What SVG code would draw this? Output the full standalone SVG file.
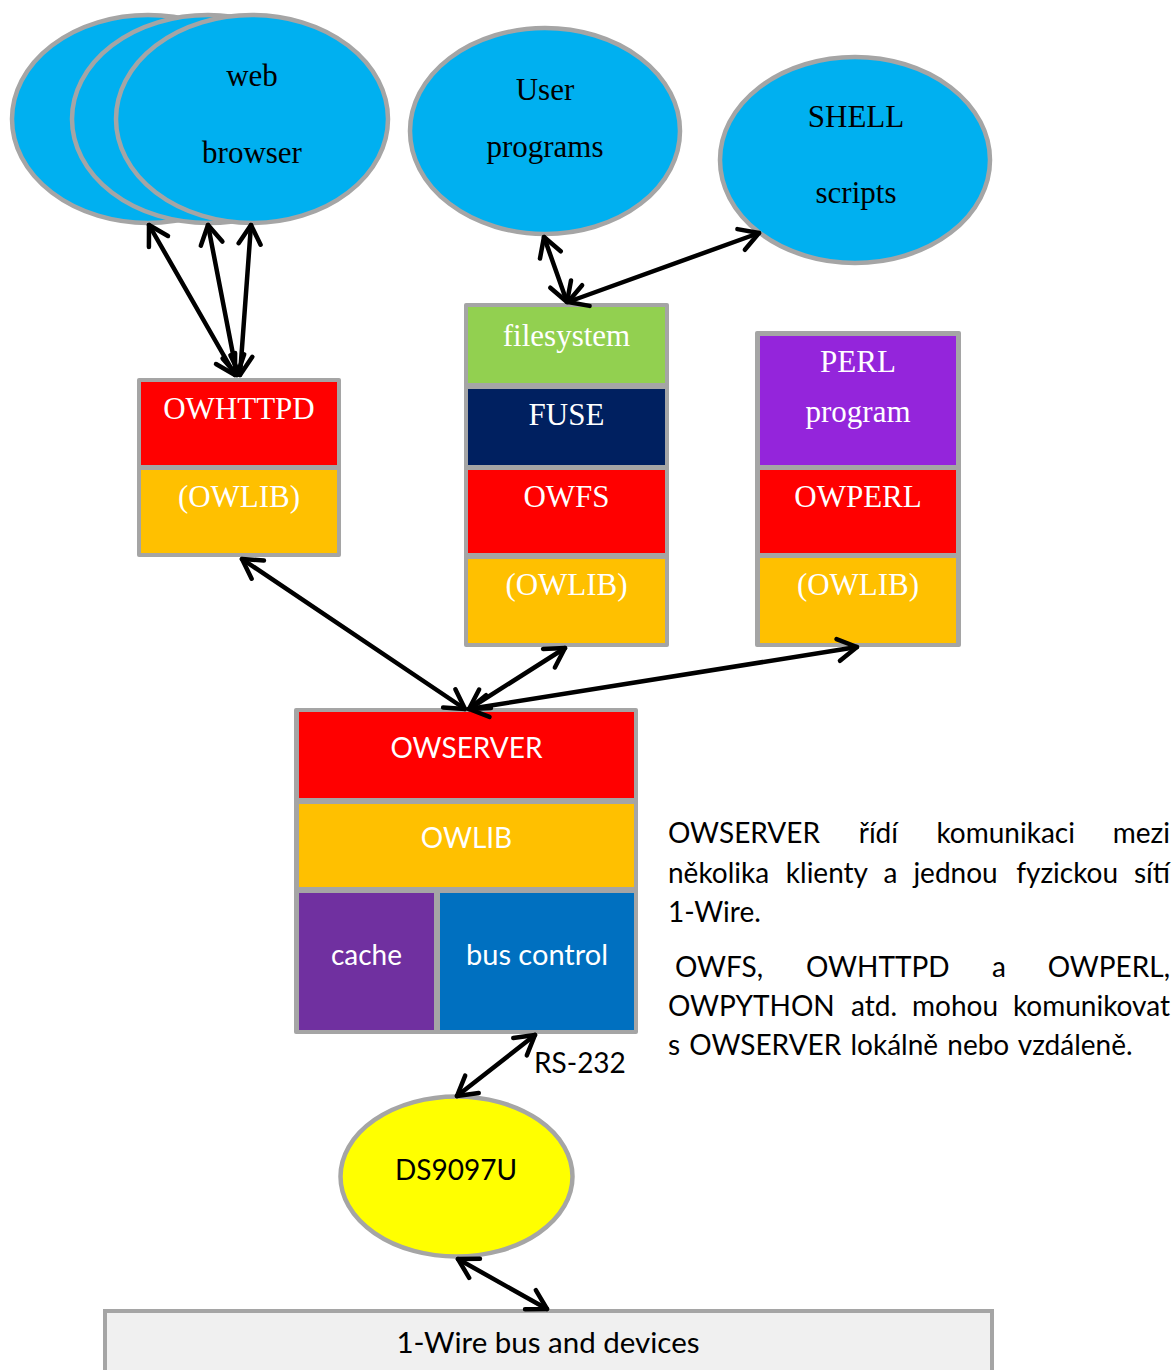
<svg xmlns="http://www.w3.org/2000/svg" width="1175" height="1370" viewBox="0 0 1175 1370">
<style>
.ell{stroke:#a5a5a5;stroke-width:4.5}
.sky{fill:#00b0f0}
.frame{fill:#a5a5a5}
.serif{font-family:"Liberation Serif","Times New Roman",serif;font-size:31px;text-anchor:middle}
.sans{font-family:Lato,"Open Sans",sans-serif;font-size:28px}
.mid{text-anchor:middle}
.w{fill:#ffffff}
.k{fill:#000000}
.conn{stroke:#000;stroke-width:4.5;fill:none;stroke-linecap:round}
</style>
<defs>
<marker id="ah" markerUnits="userSpaceOnUse" viewBox="-24 -14 28 28" refX="0" refY="0" markerWidth="28" markerHeight="28" orient="auto-start-reverse">
<path d="M-19,-11 L0,0 L-19,11" fill="none" stroke="#000" stroke-width="4.5" stroke-linecap="round" stroke-linejoin="round"/>
</marker>
</defs>

<g id="web-browser">
<ellipse class="ell sky" cx="148" cy="119" rx="136" ry="104"/>
<ellipse class="ell sky" cx="208" cy="119" rx="136" ry="104"/>
<ellipse class="ell sky" cx="252" cy="119" rx="136" ry="104"/>
<text class="serif k" x="252" y="86">web</text>
<text class="serif k" x="252" y="163">browser</text>
</g>

<g id="user-programs">
<ellipse class="ell sky" cx="545" cy="131" rx="135" ry="103"/>
<text class="serif k" x="545" y="100">User</text>
<text class="serif k" x="545" y="157">programs</text>
</g>

<g id="shell-scripts">
<ellipse class="ell sky" cx="855" cy="160" rx="135" ry="103"/>
<text class="serif k" x="856" y="127">SHELL</text>
<text class="serif k" x="856" y="203">scripts</text>
</g>

<g id="owhttpd">
<rect class="frame" x="137" y="378" width="204" height="179" rx="2"/>
<rect x="141" y="382" width="196" height="83" fill="#ff0000"/>
<rect x="141" y="470" width="196" height="83" fill="#ffc000"/>
<text class="serif w" x="239" y="419">OWHTTPD</text>
<text class="serif w" x="239" y="507">(OWLIB)</text>
</g>

<g id="owfs">
<rect class="frame" x="464" y="303" width="205" height="344" rx="2"/>
<rect x="468" y="307" width="197" height="76" fill="#92d050"/>
<rect x="468" y="389" width="197" height="76" fill="#002060"/>
<rect x="468" y="470" width="197" height="83" fill="#ff0000"/>
<rect x="468" y="559" width="197" height="84" fill="#ffc000"/>
<text class="serif w" x="566.5" y="346">filesystem</text>
<text class="serif w" x="566.5" y="425">FUSE</text>
<text class="serif w" x="566.5" y="507">OWFS</text>
<text class="serif w" x="566.5" y="595">(OWLIB)</text>
</g>

<g id="owperl">
<rect class="frame" x="755" y="331" width="206" height="316" rx="2"/>
<rect x="760" y="336" width="196" height="129" fill="#9425db"/>
<rect x="760" y="470" width="196" height="83" fill="#ff0000"/>
<rect x="760" y="558" width="196" height="85" fill="#ffc000"/>
<text class="serif w" x="858" y="372">PERL</text>
<text class="serif w" x="858" y="422">program</text>
<text class="serif w" x="858" y="507">OWPERL</text>
<text class="serif w" x="858" y="595">(OWLIB)</text>
</g>

<g id="owserver">
<rect class="frame" x="294" y="708" width="344" height="326" rx="2"/>
<rect x="299" y="712" width="335" height="86" fill="#ff0000"/>
<rect x="299" y="804" width="335" height="83" fill="#ffc000"/>
<rect x="299" y="893" width="135" height="137" fill="#7030a0"/>
<rect x="440" y="893" width="194" height="137" fill="#0070c0"/>
<text class="sans mid w" x="466.5" y="758">OWSERVER</text>
<text class="sans mid w" x="466.5" y="848">OWLIB</text>
<text class="sans mid w" x="366.5" y="965">cache</text>
<text class="sans mid w" x="537" y="965" style="font-size:29px">bus control</text>
</g>

<g id="ds9097u">
<ellipse class="ell" cx="456.5" cy="1176.5" rx="116" ry="80" fill="#ffff00"/>
<text class="sans mid k" x="456" y="1180">DS9097U</text>
</g>

<g id="onewire-bus">
<rect x="105" y="1311" width="887" height="80" fill="#f0f0f0" stroke="#a5a5a5" stroke-width="4"/>
<text class="sans mid k" x="548" y="1353" style="font-size:29.5px">1-Wire bus and devices</text>
</g>

<g id="connectors">
<line class="conn" x1="235" y1="375" x2="149" y2="225" marker-start="url(#ah)" marker-end="url(#ah)"/>
<line class="conn" x1="237" y1="375" x2="208" y2="225" marker-start="url(#ah)" marker-end="url(#ah)"/>
<line class="conn" x1="240" y1="375" x2="251" y2="225" marker-start="url(#ah)" marker-end="url(#ah)"/>
<line class="conn" x1="544" y1="237" x2="567" y2="302" marker-start="url(#ah)" marker-end="url(#ah)"/>
<line class="conn" x1="759" y1="233" x2="568" y2="302" marker-start="url(#ah)" marker-end="url(#ah)"/>
<line class="conn" x1="242" y1="559" x2="465" y2="709" marker-start="url(#ah)" marker-end="url(#ah)"/>
<line class="conn" x1="565" y1="648" x2="469" y2="709" marker-start="url(#ah)" marker-end="url(#ah)"/>
<line class="conn" x1="857" y1="647" x2="469" y2="709" marker-start="url(#ah)" marker-end="url(#ah)"/>
<line class="conn" x1="535" y1="1035" x2="457" y2="1096" marker-start="url(#ah)" marker-end="url(#ah)"/>
<line class="conn" x1="458" y1="1259" x2="547" y2="1309" marker-start="url(#ah)" marker-end="url(#ah)"/>
</g>

<text class="sans k" x="534" y="1073">RS-232</text>

<g id="description" class="sans k">
<text y="843"><tspan x="668">OWSERVER</tspan><tspan x="858.7">řídí</tspan><tspan x="936.4">komunikaci</tspan></text>
<text y="843" x="1170" text-anchor="end">mezi</text>
<text y="883"><tspan x="668">několika</tspan><tspan x="785.8">klienty</tspan><tspan x="883.6">a</tspan><tspan x="913.4">jednou</tspan><tspan x="1016.2">fyzickou</tspan></text>
<text y="883" x="1170" text-anchor="end">sítí</text>
<text y="922" x="668">1-Wire.</text>
<text y="977"><tspan x="675">OWFS,</tspan><tspan x="806">OWHTTPD</tspan><tspan x="992">a</tspan></text>
<text y="977" x="1170" text-anchor="end">OWPERL,</text>
<text y="1016"><tspan x="668">OWPYTHON</tspan><tspan x="851">atd.</tspan><tspan x="912">mohou</tspan></text>
<text y="1016" x="1170" text-anchor="end">komunikovat</text>
<text y="1055" x="668" word-spacing="2">s OWSERVER lokálně nebo vzdáleně.</text>
</g>
</svg>
